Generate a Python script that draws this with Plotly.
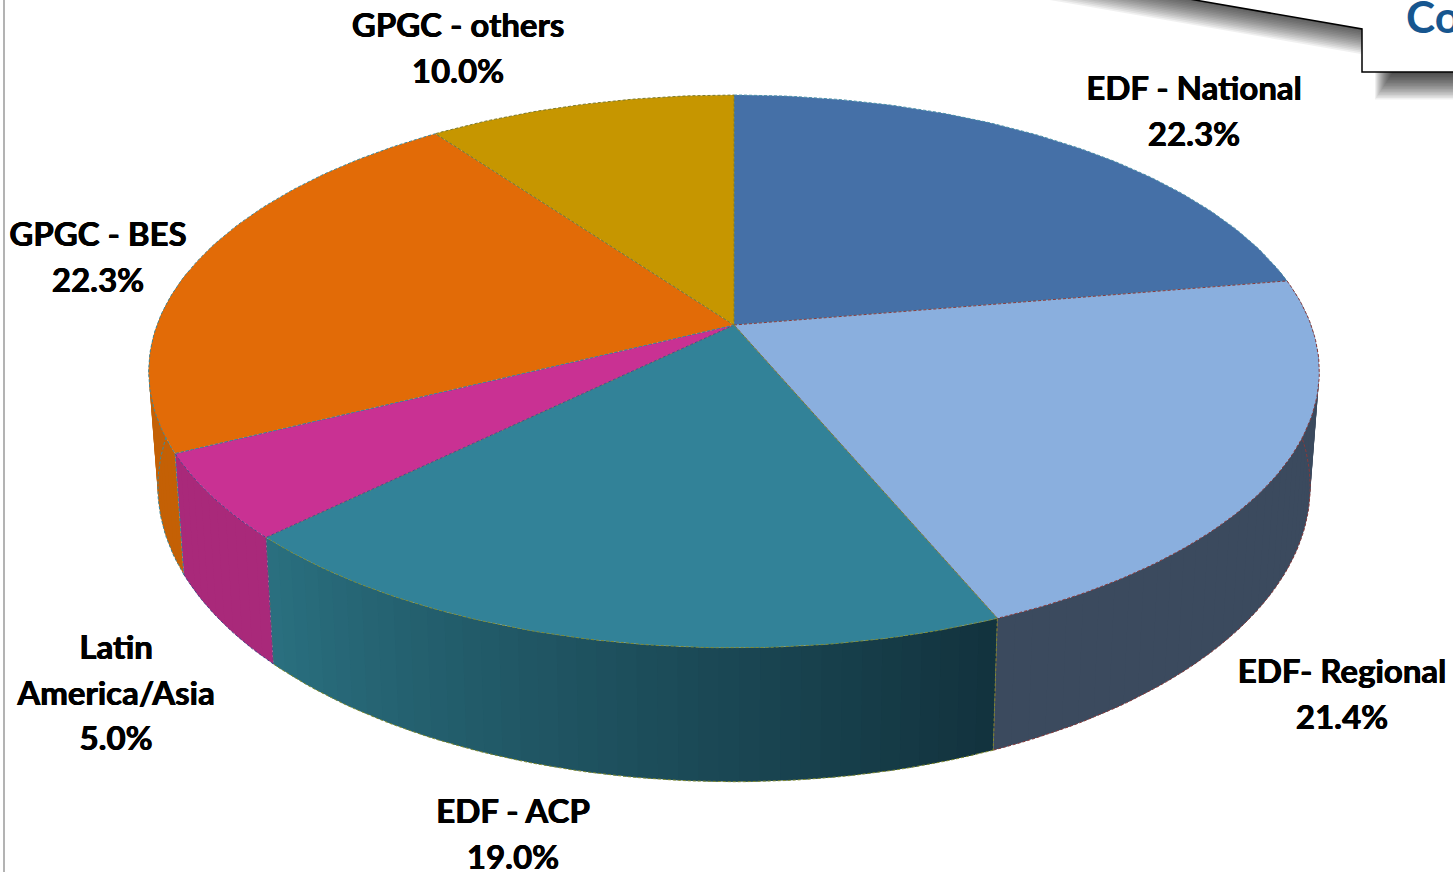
import math
import plotly.graph_objects as go

# ---- data ----
slice_names = ["EDF - National", "EDF- Regional", "EDF - ACP", "Latin<br>America/Asia", "GPGC - BES", "GPGC - others"]
slice_values = [22.3, 21.4, 19.0, 5.0, 22.3, 10.0]
top_colors = ["#4570A7", "#8AAFDE", "#328298", "#C93193", "#E26B07", "#C69600"]
side_left = ["#2F4E76", "#3B4A5E", "#2A7080", "#A9297A", "#C46005", "#8A6A00"]
side_right = ["#2F4E76", "#3B4A5E", "#12323D", "#A9297A", "#C46005", "#8A6A00"]
edge_colors = ["#4A8FA8", "#8A3A3A", "#7F8A2F", "#4A4A8A", "#3F8A9C", "#7A7A30"]
label_centers = [(1194, 92), (1342, 675), (513, 815), (116, 651), (98, 238), (458, 29)]

# ---- projection of the tilted disc ----
W, H = 1453, 872
CX, K = 734, -0.168
TOP = dict(A=577, a=214, b=325)
BOT = dict(A=568, a=213, b=437.4)
LINE_GAP = 45.5
FONT = "Lato"
BOLDEN = "0.5px 0 0 black, -0.3px 0 0 black"
STRIP_DEG = 1.7
OVERLAP_DEG = 3


def project(deg, r, plane):
    t = math.radians(deg)
    u, v = r * math.sin(t), -r * math.cos(t)
    d = 1 + K * v
    return CX + plane["A"] * u / d, (plane["a"] * v + plane["b"]) / d


def mix(c1, c2, f):
    p = [int(c1[i:i + 2], 16) for i in (1, 3, 5)]
    q = [int(c2[i:i + 2], 16) for i in (1, 3, 5)]
    return "rgb(%d,%d,%d)" % tuple(round(a + (b - a) * f) for a, b in zip(p, q))


fig = go.Figure()
edges = [0]
for val in slice_values:
    edges.append(edges[-1] + val * 3.6)

# side walls (front half only); overlapping quads, later ones painted over earlier ones
for i in range(len(slice_values)):
    a0, a1 = max(edges[i], 78), min(edges[i + 1], 282)
    if a1 <= a0:
        continue
    n = max(1, round((a1 - a0) / STRIP_DEG))
    for j in range(n):
        s0 = a0 + (a1 - a0) * j / n
        s1 = min(a1, s0 + OVERLAP_DEG)
        p = [project(s0, 1, TOP), project(s1, 1, TOP), project(s1, 1, BOT), project(s0, 1, BOT)]
        xs = [q[0] for q in p] + [p[0][0]]
        ys = [q[1] for q in p] + [p[0][1]]
        col = mix(side_left[i], side_right[i], 1 - (j + 0.5) / n)
        fig.add_trace(go.Scatter(x=xs, y=ys, mode="lines", fill="toself", fillcolor=col,
                                 line=dict(color=col, width=0), hoverinfo="skip", showlegend=False))
    # wall outline
    xs, ys = [], []
    for j in range(61):
        q = project(a0 + (a1 - a0) * j / 60, 1, BOT)
        xs.append(q[0]); ys.append(q[1])
    fig.add_trace(go.Scatter(x=xs, y=ys, mode="lines", line=dict(color=edge_colors[i], width=1, dash="3px,2px"),
                             hoverinfo="skip", showlegend=False))
    for ang in (a0, a1):
        if 85 < ang < 275:
            q0, q1 = project(ang, 1, TOP), project(ang, 1, BOT)
            fig.add_trace(go.Scatter(x=[q0[0], q1[0]], y=[q0[1], q1[1]], mode="lines",
                                     line=dict(color=edge_colors[i], width=1, dash="3px,2px"),
                                     hoverinfo="skip", showlegend=False))

# top face
for i in range(len(slice_values)):
    a0, a1 = edges[i], edges[i + 1]
    n = max(8, int(a1 - a0))
    arc = [project(a0 + (a1 - a0) * j / n, 1, TOP) for j in range(n + 1)]
    c = project(0, 0, TOP)
    xs = [c[0]] + [q[0] for q in arc] + [c[0]]
    ys = [c[1]] + [q[1] for q in arc] + [c[1]]
    fig.add_trace(go.Scatter(x=xs, y=ys, mode="lines", fill="toself", fillcolor=top_colors[i],
                             line=dict(color=edge_colors[i], width=1, dash="3px,2px"),
                             hoverinfo="skip", showlegend=False))

# labels
lab_x, lab_y, lab_t = [], [], []
for name, val, (lx, ly) in zip(slice_names, slice_values, label_centers):
    lines = name.split("<br>") + [f"{val:.1f}%"]
    for k, line in enumerate(lines):
        lab_x.append(lx); lab_y.append(ly + k * LINE_GAP); lab_t.append(line)
fig.add_trace(go.Scatter(x=lab_x, y=lab_y, text=lab_t, mode="text", textposition="middle center",
                         textfont=dict(family=FONT, size=33, color="black", weight="bold", shadow=BOLDEN),
                         hoverinfo="skip", showlegend=False))
fig.add_trace(go.Scatter(x=[1406], y=[22], text=["Co"], mode="text", textposition="middle right",
                         textfont=dict(family=FONT, size=44, color="#17568F", weight="bold"),
                         cliponaxis=True, hoverinfo="skip", showlegend=False))

# callout with soft shadow
shapes = []
slope = 29 / 167
for s in range(18):
    dy = 2 + s * 1.5
    dx = 30 - s * 1.0
    x0 = 1362 + dx - (29 + dy + 20) / slope
    shapes.append(dict(type="path", layer="below", line=dict(width=0), fillcolor="rgba(0,0,0,0.06)",
                       path=f"M {x0},-20 L {1362 + dx},{29 + dy} L {1362 + dx},{72 + dy} L 1480,{72 + dy} L 1480,-20 Z"))
shapes.append(dict(type="path", layer="below", line=dict(color="black", width=1.5), fillcolor="white",
                   path=f"M {1362 - 49 / slope},-20 L 1362,29 L 1362,72 L 1480,72 L 1480,-20 Z"))
shapes.append(dict(type="line", layer="below", x0=4, x1=4, y0=-5, y1=880, line=dict(color="#9A9A9A", width=1.5)))

fig.update_layout(width=W, height=H, margin=dict(l=0, r=0, t=0, b=0), paper_bgcolor="white", plot_bgcolor="white",
                  showlegend=False, shapes=shapes,
                  xaxis=dict(range=[0, W], visible=False, fixedrange=True),
                  yaxis=dict(range=[H, 0], visible=False, fixedrange=True))
fig.write_html("out.html", post_script="document.body.style.margin='0';", config=dict(displayModeBar=False))
